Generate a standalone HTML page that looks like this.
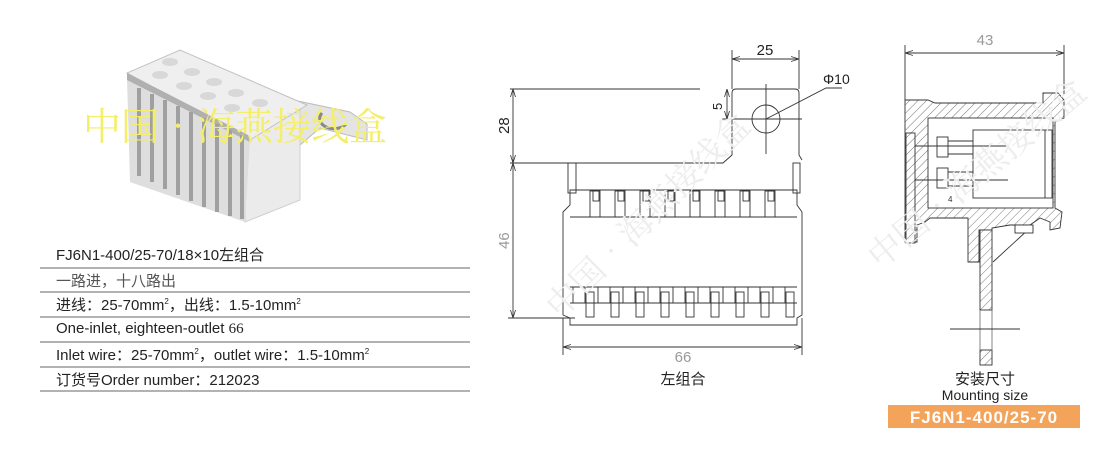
<!DOCTYPE html>
<html><head><meta charset="utf-8"><style>
html,body{margin:0;padding:0;background:#fff;}
body{width:1113px;height:474px;overflow:hidden;position:relative;font-family:"Liberation Sans","Noto Sans CJK SC",sans-serif;}
.t{position:absolute;left:55px;font-size:15px;color:#222;white-space:nowrap;}
.t.g{color:#555;}
sup{font-size:8px;}
</style></head><body>
<svg width="1113" height="474" viewBox="0 0 1113 474" style="position:absolute;left:0;top:0">
<defs>
<pattern id="h" width="6" height="6" patternUnits="userSpaceOnUse" patternTransform="rotate(45)">
<rect width="6" height="6" fill="#fff"/><line x1="0" y1="0" x2="0" y2="6" stroke="#555" stroke-width="0.8"/></pattern>
<marker id="a" markerWidth="8" markerHeight="6" refX="8" refY="3" orient="auto-start-reverse" markerUnits="userSpaceOnUse"><path d="M0,0.5 L8,3 L0,5.5" fill="none" stroke="#333" stroke-width="0.8"/></marker>
</defs>
<!-- product photo -->
<g>
<polygon points="293,100 350,112 367,124 367,140 320,128 300,145" fill="#e4e4e4" stroke="#bbb"/>
<path d="M322,113 A14 10 0 0 0 346,124" fill="none" stroke="#888" stroke-width="3"/>
<polygon points="247,140 300,110 300,200 245,222" fill="#ebebeb" stroke="#d0d0d0"/>
<polygon points="127,78 250,140 245,222 130,182" fill="#dedede"/>
<polygon points="127,73 180,50 307,105 250,140" fill="#efefef" stroke="#c2c2c2"/>
<polygon points="127,73 250,136 250,142 127,80" fill="#b0b0b0"/>
<g fill="#d8d8d8"><ellipse cx="170" cy="62" rx="8" ry="4"/><ellipse cx="192" cy="72" rx="8" ry="4"/><ellipse cx="214" cy="82" rx="8" ry="4"/><ellipse cx="236" cy="93" rx="8" ry="4"/><ellipse cx="260" cy="103" rx="8" ry="4"/><ellipse cx="160" cy="75" rx="8" ry="4"/><ellipse cx="184" cy="86" rx="8" ry="4"/><ellipse cx="208" cy="96" rx="8" ry="4"/><ellipse cx="232" cy="108" rx="8" ry="4"/></g>
<g fill="#a0a0a0">
<rect x="137" y="88" width="4" height="88"/><rect x="150" y="94" width="4" height="88"/><rect x="163" y="100" width="4" height="89"/>
<rect x="176" y="106" width="4" height="89"/><rect x="189" y="112" width="4" height="89"/><rect x="202" y="118" width="4" height="89"/>
<rect x="215" y="124" width="4" height="88"/><rect x="228" y="130" width="4" height="86"/><rect x="240" y="135" width="4" height="84"/>
</g>
</g>
<text x="83" y="140" font-size="38" fill="#f4ee6a" font-family="'Noto Serif CJK SC',serif">中国•海燕接线盒</text>
<!-- table lines -->
<g stroke="#666" stroke-width="1">
<line x1="40" y1="268" x2="470" y2="268"/><line x1="40" y1="292" x2="470" y2="292"/><line x1="40" y1="317" x2="470" y2="317"/>
<line x1="40" y1="342" x2="470" y2="342"/><line x1="40" y1="367" x2="470" y2="367"/><line x1="40" y1="391" x2="470" y2="391"/>
</g>
<!-- middle drawing -->
<g fill="none" stroke="#333" stroke-width="0.9">
<line x1="732" y1="50" x2="732" y2="89"/><line x1="799" y1="50" x2="799" y2="89"/>
<line x1="732" y1="59" x2="799" y2="59" marker-start="url(#a)" marker-end="url(#a)"/>
<line x1="510" y1="89" x2="700" y2="89"/>
<line x1="510" y1="163" x2="563" y2="163"/>
<line x1="513" y1="89" x2="513" y2="163" marker-start="url(#a)" marker-end="url(#a)"/>
<line x1="513" y1="163" x2="513" y2="318" marker-start="url(#a)" marker-end="url(#a)"/>
<line x1="508" y1="318" x2="575" y2="318"/>
<path d="M563,163 L723,163 L732,155 L732,93 Q732,89 736,89 L795,89 Q799,89 799,93 L799,155 L802,160"/>
<line x1="727" y1="89" x2="727" y2="119" marker-start="url(#a)" marker-end="url(#a)"/>
<line x1="722" y1="119" x2="802" y2="119"/>
<line x1="766" y1="84" x2="766" y2="154"/>
<circle cx="766" cy="119" r="14"/>
<path d="M766,119 L826,88 L842,88"/>
<rect x="568" y="163" width="8" height="30"/><rect x="793" y="163" width="7" height="30"/>
<path d="M563,212 L570,205 L570,190 L797,190 L797,205 L802,212 L802,315 L797,318 L797,325 L570,325 L570,318 L563,315 Z"/>
<line x1="570" y1="217" x2="797" y2="217"/>
<line x1="570" y1="287" x2="797" y2="287"/><line x1="570" y1="303" x2="797" y2="303"/>
<line x1="563" y1="318" x2="563" y2="355"/><line x1="802" y1="318" x2="802" y2="355"/>
<line x1="563" y1="347" x2="802" y2="347" marker-start="url(#a)" marker-end="url(#a)"/>
</g>
<g fill="none" stroke="#333" stroke-width="0.9">
<g id="tt"><rect x="590" y="191" width="10" height="26"/><rect x="593" y="191" width="6" height="10"/></g>
<use href="#tt" x="25"/><use href="#tt" x="50"/><use href="#tt" x="75"/><use href="#tt" x="100"/><use href="#tt" x="125"/><use href="#tt" x="150"/><use href="#tt" x="175"/>
<g id="bb"><rect x="573" y="287" width="12" height="16"/><rect x="586" y="292" width="8" height="25"/></g>
<use href="#bb" x="25"/><use href="#bb" x="50"/><use href="#bb" x="75"/><use href="#bb" x="100"/><use href="#bb" x="125"/><use href="#bb" x="150"/><use href="#bb" x="175"/><use href="#bb" x="200"/>
</g>
<text x="765" y="55" font-size="15" text-anchor="middle" fill="#222">25</text>
<text x="823" y="84" font-size="14" fill="#222">Φ10</text>
<text transform="translate(722,110) rotate(-90)" font-size="13" fill="#222">5</text>
<text transform="translate(509,134) rotate(-90)" font-size="15" fill="#222">28</text>
<text transform="translate(509,249) rotate(-90)" font-size="15" fill="#999">46</text>
<text x="683" y="362" font-size="15" text-anchor="middle" fill="#999">66</text>
<text x="683" y="384" font-size="15" text-anchor="middle" fill="#222" font-family="'Noto Sans CJK SC',sans-serif">左组合</text>
<!-- right drawing -->
<g fill="none" stroke="#333" stroke-width="0.9">
<line x1="905" y1="45" x2="905" y2="100"/><line x1="1064" y1="45" x2="1064" y2="95"/>
<line x1="905" y1="53" x2="1064" y2="53" marker-start="url(#a)" marker-end="url(#a)"/>
<path d="M905,100 L928,100 L935,103 L1043,103 L1043,93 L1058,93 L1064,100 L1064,118 L1055,122 L1055,208 L1062,212 L1060,228 L1050,230 L1050,222 L1040,218 L1030,225 L1010,225 L992,228 L992,230 L979,230 L979,262 L968,262 L968,218 L930,218 L925,222 L917,225 L917,242 L905,242 Z" fill="url(#h)"/>
<rect x="928" y="118" width="125" height="90" fill="#fff"/>
<rect x="973" y="130" width="79" height="68" fill="#fff"/>
<line x1="1045" y1="130" x2="1045" y2="198"/>
<rect x="937" y="137" width="11" height="20" fill="#fff"/><rect x="937" y="168" width="11" height="20" fill="#fff"/>
<line x1="910" y1="146" x2="1008" y2="146"/><line x1="910" y1="180" x2="1008" y2="180"/>
<line x1="948" y1="141" x2="973" y2="141"/><line x1="948" y1="154" x2="973" y2="154"/>
<line x1="948" y1="172" x2="973" y2="172"/><line x1="948" y1="186" x2="973" y2="186"/>
<rect x="906" y="133" width="9" height="110" fill="url(#h)"/>
<rect x="980" y="230" width="12" height="80" fill="url(#h)"/>
<rect x="980" y="350" width="12" height="15" fill="url(#h)"/>
<line x1="980" y1="310" x2="980" y2="350" stroke="#777"/><line x1="992" y1="310" x2="992" y2="350" stroke="#777"/>
<line x1="950" y1="329" x2="1020" y2="329"/>
<line x1="993" y1="262" x2="1030" y2="228"/>
<rect x="1015" y="225" width="18" height="8" fill="#fff"/>
</g>
<text x="948" y="202" font-size="8" fill="#333">4</text>
<text x="985" y="45" font-size="15" text-anchor="middle" fill="#999">43</text>
<text x="985" y="384" font-size="15" text-anchor="middle" fill="#222" font-family="'Noto Sans CJK SC',sans-serif">安装尺寸</text>
<text x="985" y="400" font-size="14" text-anchor="middle" fill="#222">Mounting size</text>
<rect x="888" y="405" width="192" height="23" fill="#f4a45a"/>
<text x="984" y="423" font-size="17" font-weight="bold" text-anchor="middle" fill="#fff" letter-spacing="1">FJ6N1-400/25-70</text>
<!-- faint watermarks -->
<g font-size="34" fill="#ededed" font-family="'Noto Serif CJK SC',serif">
<text transform="translate(560,320) rotate(-45)">中国•海燕接线盒</text>
<text transform="translate(880,270) rotate(-40)">中国•海燕接线盒</text>
</g>
</svg>
<div class="t" style="top:244px;left:56px">FJ6N1-400/25-70/18×10左组合</div>
<div class="t g" style="top:270px;left:56px">一路进，十八路出</div>
<div class="t" style="top:294px;left:56px">进线：25-70mm<sup>2</sup>，出线：1.5-10mm<sup>2</sup></div>
<div class="t" style="top:320px;left:56px">One-inlet, eighteen-outlet <span style="font-family:'Liberation Serif',serif">66</span></div>
<div class="t" style="top:344px;left:56px">Inlet wire：25-70mm<sup>2</sup>，outlet wire：1.5-10mm<sup>2</sup></div>
<div class="t" style="top:369px;left:56px">订货号Order number：212023</div>
</body></html>
